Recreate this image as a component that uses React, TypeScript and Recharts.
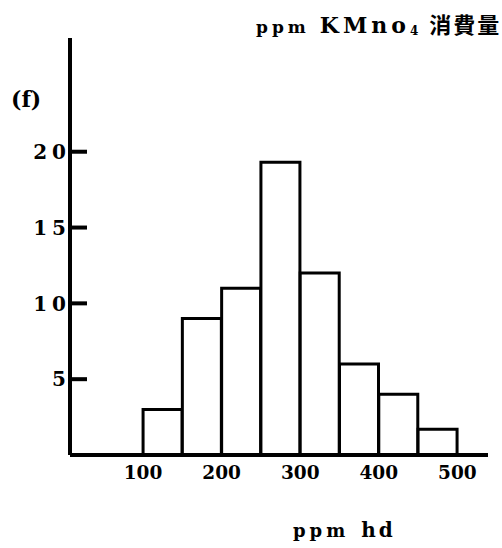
import React from 'react';
import { BarChart, Bar, XAxis, YAxis } from 'recharts';

const binCenters = [125, 175, 225, 275, 325, 375, 425, 475];
const counts = [3, 9, 11, 19.3, 12, 6, 4, 1.7];
const xTicks = [100, 200, 300, 400, 500];
const yTicks = [5, 10, 15, 20];

const data = binCenters.map((x, i) => ({ x, f: counts[i] }));

const FONT = '"DejaVu Serif", "Liberation Serif", serif';

const YTick = (props: any) => {
  const { x, y, payload } = props;
  const px = Number(x);
  const py = Number(y);
  return (
    <g>
      <rect x={px} y={py - 2} width={17} height={4} fill="#000" stroke="none" />
      <text x={px + 1} y={py} dy="0.36em" textAnchor="end" fontFamily={FONT} fontWeight="bold" fontSize={20} letterSpacing={5} fill="#000">
        {payload.value}
      </text>
    </g>
  );
};

export default function App() {
  return (
    <div style={{ position: 'absolute', left: 0, top: 0, width: 502, height: 548, background: '#fff' }}>
      <BarChart width={502} height={548} data={data} margin={{ top: 38, right: 14, bottom: 0, left: 0 }} barCategoryGap={0} barGap={0}>
        <XAxis
          dataKey="x"
          type="number"
          domain={[7, 539]}
          ticks={xTicks}
          tickLine={false}
          tickSize={0}
          tickMargin={11}
          height={93}
          axisLine={{ stroke: '#000', strokeWidth: 4 }}
          tick={{ fill: '#000', fontFamily: FONT, fontWeight: 'bold', fontSize: 18.5 }}
          allowDataOverflow
        />
        <YAxis
          type="number"
          domain={[0, 27.5]}
          ticks={yTicks}
          width={70}
          tickLine={false}
          tickSize={0}
          tickMargin={0}
          axisLine={{ stroke: '#000', strokeWidth: 4 }}
          tick={<YTick />}
          allowDataOverflow
        />
        <Bar dataKey="f" fill="#fff" stroke="#000" strokeWidth={3} isAnimationActive={false} />
      </BarChart>
      <div style={{ position: 'absolute', left: 256, top: 9, fontFamily: FONT, fontWeight: 'bold', color: '#000', whiteSpace: 'nowrap', lineHeight: '28px' }}>
        <span style={{ fontSize: 17, letterSpacing: 4 }}>ppm</span>
        <span style={{ marginLeft: 10, fontSize: 22, letterSpacing: 4 }}>KMno<sub style={{ fontSize: 12, verticalAlign: '-2px' }}>4</sub></span>
        <span style={{ marginLeft: 7, fontFamily: '"Noto Sans CJK JP", sans-serif', fontSize: 22, letterSpacing: 2 }}>消費量</span>
      </div>
      <div style={{ position: 'absolute', left: 11, top: 86, fontFamily: FONT, fontWeight: 'bold', fontSize: 22, color: '#000' }}>(f)</div>
      <div style={{ position: 'absolute', left: 293, top: 518, fontFamily: FONT, fontWeight: 'bold', color: '#000', whiteSpace: 'nowrap' }}>
        <span style={{ fontSize: 18, letterSpacing: 4 }}>ppm</span>
        <span style={{ marginLeft: 12, fontSize: 20, letterSpacing: 3 }}>hd</span>
      </div>
    </div>
  );
}
